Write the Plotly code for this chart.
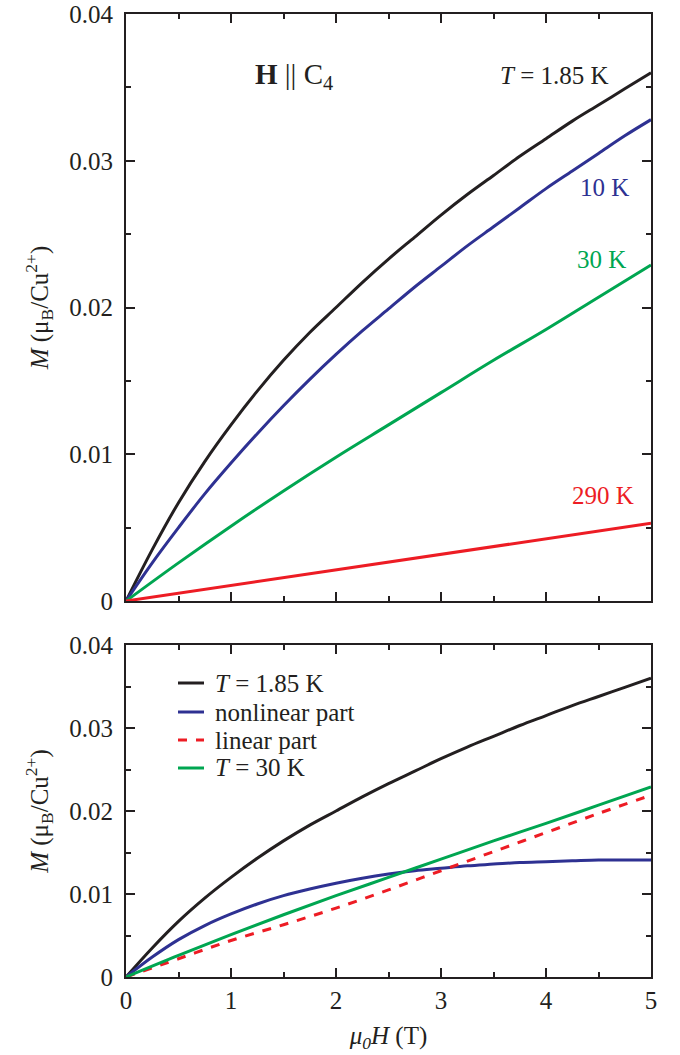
import plotly.graph_objects as go

# ---- data ----
H_fine = [0, 0.25, 0.5, 0.75, 1, 1.25, 1.5, 1.75, 2, 2.25, 2.5, 2.75, 3, 3.25, 3.5, 3.75, 4, 4.25, 4.5, 4.75, 5]
M_1p85K = [0, 0.0035, 0.0067, 0.0095, 0.0120, 0.0143, 0.0164, 0.0183, 0.0200, 0.0217, 0.0233,
           0.0248, 0.0263, 0.0277, 0.0290, 0.0303, 0.0315, 0.0327, 0.0338, 0.0349, 0.0360]
M_10K = [0, 0.0026, 0.0050, 0.0073, 0.0094, 0.0114, 0.0133, 0.0151, 0.0168, 0.0184, 0.0199,
         0.0214, 0.0228, 0.0242, 0.0255, 0.0268, 0.0281, 0.0293, 0.0305, 0.0317, 0.0328]
H_coarse = [0, 0.5, 1, 1.5, 2, 2.5, 3, 3.5, 4, 4.5, 5]
M_30K = [0, 0.0026, 0.0051, 0.0075, 0.0098, 0.0120, 0.0142, 0.0164, 0.0185, 0.0207, 0.0229]
H_lin = [0, 5]
M_290K = [0, 0.0053]
M_nonlinear = [0, 0.0024, 0.0045, 0.0062, 0.0076, 0.0088, 0.0098, 0.0106, 0.0113, 0.0119, 0.0124,
               0.0128, 0.0131, 0.0134, 0.0136, 0.0138, 0.0139, 0.0140, 0.0141, 0.0141, 0.0141]
M_linear = [0, 0.0022, 0.0044, 0.0063, 0.0083, 0.0105, 0.0128, 0.0151, 0.0174, 0.0197, 0.0219]

x_ticks = [0, 1, 2, 3, 4, 5]
y_ticks = [0, 0.01, 0.02, 0.03, 0.04]
y_ticklabels = ["0", "0.01", "0.02", "0.03", "0.04"]

legend_names = ["<i>T</i> = 1.85 K", "nonlinear part", "linear part", "<i>T</i> = 30 K"]

BLACK = "#231f20"
BLUE = "#2e3192"
GREEN = "#00a651"
RED = "#ed1c24"
FONT = "Liberation Serif, Times New Roman, serif"
FS = 25

fig = go.Figure()
LW = 3

# top panel
fig.add_trace(go.Scatter(x=H_fine, y=M_1p85K, mode="lines", line=dict(color=BLACK, width=LW, shape="spline"),
                         xaxis="x", yaxis="y", showlegend=False))
fig.add_trace(go.Scatter(x=H_fine, y=M_10K, mode="lines", line=dict(color=BLUE, width=LW, shape="spline"),
                         xaxis="x", yaxis="y", showlegend=False))
fig.add_trace(go.Scatter(x=H_coarse, y=M_30K, mode="lines", line=dict(color=GREEN, width=LW, shape="spline"),
                         xaxis="x", yaxis="y", showlegend=False))
fig.add_trace(go.Scatter(x=H_lin, y=M_290K, mode="lines", line=dict(color=RED, width=LW),
                         xaxis="x", yaxis="y", showlegend=False))

# bottom panel
fig.add_trace(go.Scatter(x=H_fine, y=M_1p85K, mode="lines", line=dict(color=BLACK, width=LW, shape="spline"),
                         xaxis="x2", yaxis="y2", name=legend_names[0], showlegend=False))
fig.add_trace(go.Scatter(x=H_fine, y=M_nonlinear, mode="lines", line=dict(color=BLUE, width=LW, shape="spline"),
                         xaxis="x2", yaxis="y2", name=legend_names[1], showlegend=False))
fig.add_trace(go.Scatter(x=H_coarse, y=M_linear, mode="lines", line=dict(color=RED, width=LW, dash="dash", shape="spline"),
                         xaxis="x2", yaxis="y2", name=legend_names[2], showlegend=False))
fig.add_trace(go.Scatter(x=H_coarse, y=M_30K, mode="lines", line=dict(color=GREEN, width=LW, shape="spline"),
                         xaxis="x2", yaxis="y2", name=legend_names[3], showlegend=False))

axis_common = dict(showline=True, linecolor=BLACK, linewidth=2, mirror="allticks",
                   ticks="inside", ticklen=9, tickwidth=2, tickcolor=BLACK,
                   showgrid=False, zeroline=False, automargin=False,
                   tickfont=dict(family=FONT, size=FS, color=BLACK))
minor_x = dict(dtick=0.5, ticks="inside", ticklen=5, tickwidth=2, tickcolor=BLACK)
minor_y = dict(dtick=0.005, ticks="inside", ticklen=5, tickwidth=2, tickcolor=BLACK)

ytitle = dict(text="<i>M</i> (μ<sub>B</sub>/Cu<sup>2+</sup>)", font=dict(family=FONT, size=FS, color=BLACK), standoff=14)

L, R, T, B = 126, 29, 14, 78
W, Hh = 680, 1055
PW, PH = W - L - R, Hh - T - B

fig.update_layout(
    width=W, height=Hh,
    margin=dict(l=L, r=R, t=T, b=B),
    paper_bgcolor="white", plot_bgcolor="white",
    font=dict(family=FONT, size=FS, color=BLACK),
    showlegend=False,
    xaxis=dict(**axis_common, range=[0, 5], domain=[0, 1], anchor="y", tickvals=x_ticks, showticklabels=False,
               minor=minor_x),
    yaxis=dict(**axis_common, range=[0, 0.04], domain=[(977 - 601) / PH, 1], anchor="x", tickvals=y_ticks,
               ticktext=y_ticklabels, minor=minor_y, title=ytitle, ticklabelstandoff=6),
    xaxis2=dict(**axis_common, range=[0, 5], domain=[0, 1], anchor="y2", tickvals=x_ticks, minor=minor_x,
                title=dict(text="<i>μ<sub>0</sub>H</i> (T)", font=dict(family=FONT, size=FS, color=BLACK), standoff=13)),
    yaxis2=dict(**axis_common, range=[0, 0.04], domain=[0, (977 - 645) / PH], anchor="x2", tickvals=y_ticks,
                ticktext=y_ticklabels, minor=minor_y, title=ytitle, ticklabelstandoff=6),
)

# top-panel labels
fig.add_annotation(x=1.6, y=0.0358, xref="x", yref="y", text="<b>H</b> || C<sub>4</sub>", showarrow=False,
                   font=dict(family=FONT, size=29, color=BLACK))
fig.add_annotation(x=4.62, y=0.0358, xref="x", yref="y", xanchor="right", text="<i>T</i> = 1.85 K", showarrow=False,
                   font=dict(family=FONT, size=FS, color=BLACK))
fig.add_annotation(x=4.81, y=0.0282, xref="x", yref="y", xanchor="right", text="10 K", showarrow=False,
                   font=dict(family=FONT, size=FS, color=BLUE))
fig.add_annotation(x=4.78, y=0.0233, xref="x", yref="y", xanchor="right", text="30 K", showarrow=False,
                   font=dict(family=FONT, size=FS, color=GREEN))
fig.add_annotation(x=4.86, y=0.0072, xref="x", yref="y", xanchor="right", text="290 K", showarrow=False,
                   font=dict(family=FONT, size=FS, color=RED))

# manual legend for the bottom panel
def px_x(p):
    return (p - L) / PW

def px_y(p):
    return (Hh - B - p) / PH

leg_rows = [683, 712, 740, 768]
leg_colors = [BLACK, BLUE, RED, GREEN]
leg_dash = ["solid", "solid", "dash", "solid"]
for name, yy, col, dsh in zip(legend_names, leg_rows, leg_colors, leg_dash):
    fig.add_shape(type="line", xref="paper", yref="paper", x0=px_x(178), x1=px_x(204), y0=px_y(yy), y1=px_y(yy),
                  line=dict(color=col, width=LW, dash=dsh))
    fig.add_annotation(xref="paper", yref="paper", x=px_x(213), y=px_y(yy), xanchor="left", yanchor="middle",
                       text=name, showarrow=False, font=dict(family=FONT, size=FS, color=BLACK))

fig.write_html("out.html", config={"displayModeBar": False},
               post_script="document.body.style.margin='0';")
